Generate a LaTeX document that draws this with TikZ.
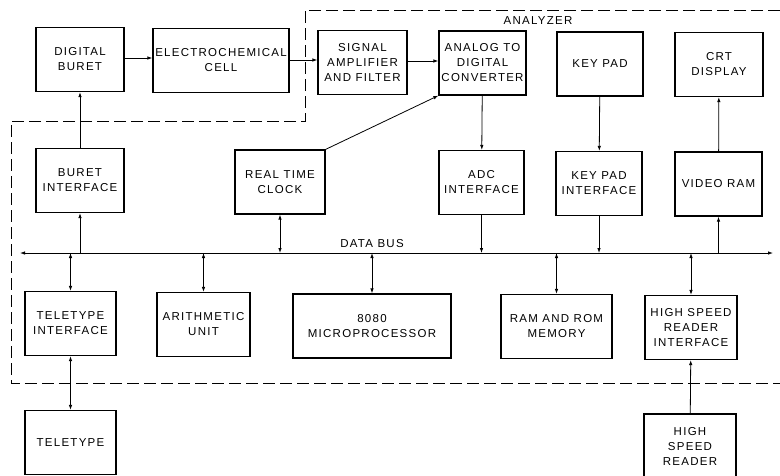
\documentclass[tikz,border=0pt]{standalone}
\usepackage{fontspec}
\setmainfont{Liberation Sans}[LetterSpace=11]
\usetikzlibrary{arrows.meta}

\begin{document}
\begin{tikzpicture}[x=1pt,y=-1pt,
  blk/.style={draw,line width=1.2pt,inner sep=0pt,align=center,minimum height=64pt,minimum width=#1,font=\fontsize{11.5}{15}\selectfont},
  blk/.default=88pt,
  lnk/.style={line width=0.8pt,-{Latex[length=5pt,width=3.5pt]}},
  dlnk/.style={line width=0.8pt,{Latex[length=5pt,width=3.5pt]}-{Latex[length=5pt,width=3.5pt]}},
  lbl/.style={font=\fontsize{11.5}{15}\selectfont,inner sep=0pt},
  bnd/.style={line width=0.9pt,dash pattern=on 12pt off 5pt}]
\useasboundingbox (0,0) rectangle (780,475);
\clip (0,0) rectangle (780,475);
% analyzer boundary
\draw[bnd] (780,10) -- (305,10) -- (305,121) -- (11,121) -- (11,383) -- (780,383);
\node[lbl] (analyzer) at (538,21) {ANALYZER};
% top row
\node[blk] (buret) at (80,59.5) {DIGITAL\\BURET};
\node[blk=136pt] (cell) at (221,60.5) {ELECTROCHEMICAL\\CELL};
\node[blk=89pt] (amp) at (362.5,62.5) {SIGNAL\\AMPLIFIER\\AND FILTER};
\node[blk=87pt] (adc) at (482.5,63) {ANALOG TO\\DIGITAL\\CONVERTER};
\node[blk=86pt] (keypad) at (600,64) {KEY PAD};
\node[blk] (crt) at (719,64.5) {CRT\\DISPLAY};
% second row
\node[blk] (buretif) at (80,180.5) {BURET\\INTERFACE};
\node[blk=90pt] (clock) at (280,182) {REAL TIME\\CLOCK};
\node[blk=85pt] (adcif) at (481.5,182.5) {ADC\\INTERFACE};
\node[blk=86pt] (keypadif) at (599,183.5) {KEY PAD\\INTERFACE};
\node[blk=87pt] (videoram) at (718.5,184) {VIDEO RAM};
% data bus
\coordinate (busL) at (20,253);
\coordinate (busR) at (773,253);
\draw[dlnk] (busL) -- (busR);
\node[lbl] (buslbl) at (372,244) {DATA BUS};
% third row
\node[blk=91pt] (ttyif) at (70.5,323.5) {TELETYPE\\INTERFACE};
\node[blk=93pt] (arith) at (203.5,324.5) {ARITHMETIC\\UNIT};
\node[blk=158pt] (cpu) at (372,326) {8080\\MICROPROCESSOR};
\node[blk=111pt] (mem) at (556.5,326.5) {RAM AND ROM\\MEMORY};
\node[blk=92pt] (hsrif) at (691,327.5) {HIGH SPEED\\READER\\INTERFACE};
% outside
\node[blk=91pt] (tty) at (70.5,442.5) {TELETYPE};
\node[blk=92pt] (hsr) at (690,446) {HIGH\\SPEED\\READER};
% signal path
\draw[lnk] (buret.east |- 0,58) -- (cell.west |- 0,58);
\draw[lnk] (cell.east |- 0,60) -- (amp.west |- 0,60);
\draw[lnk] (amp.east |- 0,61) -- (adc.west |- 0,61);
\draw[lnk] (clock.north east) -- (adc.south west);
\draw[lnk] (adc) -- (adcif);
\draw[lnk] (keypad) -- (keypadif);
\draw[lnk] (videoram) -- (crt);
\draw[lnk] (buretif) -- (buret);
% bus taps
\draw[lnk] (buretif.south |- busL) -- (buretif.south);
\draw[dlnk] (clock.south) -- (clock.south |- busL);
\draw[lnk] (adcif.south) -- (adcif.south |- busL);
\draw[lnk] (keypadif.south) -- (keypadif.south |- busL);
\draw[lnk] (videoram.south |- busL) -- (videoram.south);
\foreach \n in {ttyif,arith,cpu,mem,hsrif}
  \draw[dlnk] (\n.north |- busL) -- (\n.north);
\draw[dlnk] (ttyif) -- (tty);
\draw[lnk] (hsr) -- (hsrif);
\end{tikzpicture}
\end{document}
